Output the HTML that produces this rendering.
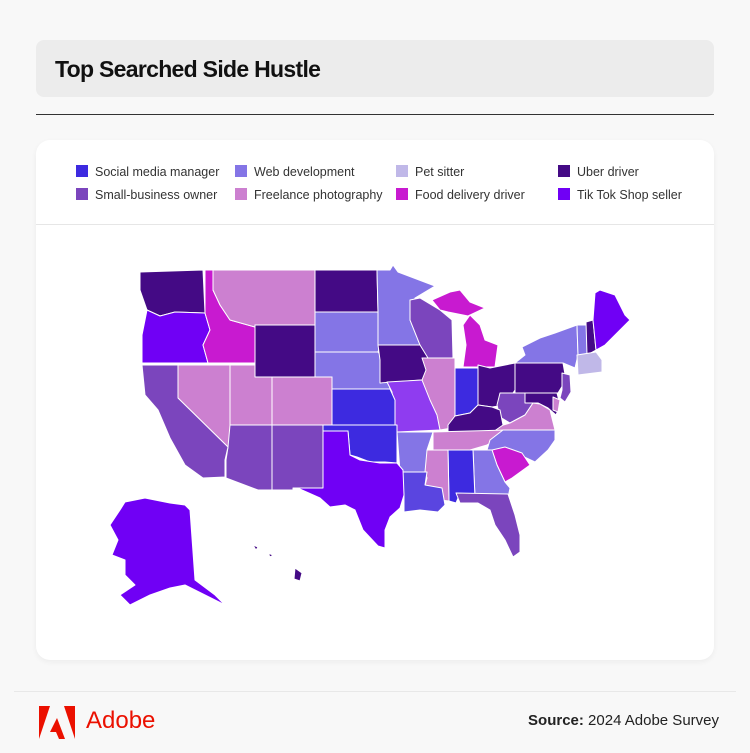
<!DOCTYPE html>
<html><head><meta charset="utf-8"><style>
body{margin:0;width:750px;height:753px;background:#f8f8f8;font-family:"Liberation Sans",sans-serif;position:relative;overflow:hidden}
.hdr{position:absolute;left:36px;top:40px;width:678px;height:57px;background:#ececec;border-radius:8px}
.hdr span{position:absolute;left:19px;top:16px;font-size:23px;font-weight:bold;color:#111;letter-spacing:-0.7px}
.rule{position:absolute;left:36px;top:114px;width:678px;height:1px;background:#333}
.card{position:absolute;left:36px;top:140px;width:678px;height:520px;background:#fff;border-radius:14px;box-shadow:0 2px 6px rgba(0,0,0,.05)}
.sep{position:absolute;left:0;top:84px;width:678px;height:1px;background:#e6e6e6}
.lg{position:absolute;font-size:12.5px;color:#333}
.lg i{display:inline-block;width:12px;height:12px;vertical-align:-1px;margin-right:7px}
.foot{position:absolute;left:14px;top:691px;width:722px;height:1px;background:#e8e8e8}
</style></head><body>
<div class="hdr"><span>Top Searched Side Hustle</span></div>
<div class="rule"></div>
<div class="card"><div class="sep"></div>
<div class="lg" style="left:40px;top:25px"><i style="background:#3d2ae0"></i>Social media manager</div>
<div class="lg" style="left:199px;top:25px"><i style="background:#8475e6"></i>Web development</div>
<div class="lg" style="left:360px;top:25px"><i style="background:#c0b8e8"></i>Pet sitter</div>
<div class="lg" style="left:522px;top:25px"><i style="background:#440a85"></i>Uber driver</div>
<div class="lg" style="left:40px;top:48px"><i style="background:#7b45bd"></i>Small-business owner</div>
<div class="lg" style="left:199px;top:48px"><i style="background:#cc80d0"></i>Freelance photography</div>
<div class="lg" style="left:360px;top:48px"><i style="background:#c81ad0"></i>Food delivery driver</div>
<div class="lg" style="left:522px;top:48px"><i style="background:#7000f5"></i>Tik Tok Shop seller</div>
</div>
<svg style="position:absolute;left:0;top:0" width="750" height="753" stroke="#fff" stroke-width="1" stroke-linejoin="round">
<polygon fill="#440a85" points="140,272 203,270 205,313 175,312 160,316 147,310 140,290"/>
<polygon fill="#7000f5" points="147,310 160,316 175,312 205,313 210,330 203,345 208,363 142,363 142,335"/>
<polygon fill="#c81ad0" points="205,270 213,270 213,290 220,305 230,320 255,327 255,363 208,363 203,345 210,330 205,313"/>
<polygon fill="#cc80d0" points="213,270 315,270 315,325 255,325 255,327 230,320 220,305 213,290"/>
<polygon fill="#440a85" points="255,325 315,325 315,377 255,377"/>
<polygon fill="#440a85" points="315,270 377,270 378,312 315,312"/>
<polygon fill="#8475e6" points="315,312 378,312 380,345 378,352 315,352"/>
<polygon fill="#8475e6" points="315,352 378,352 385,360 387,372 390,389 332,389 332,377 315,377"/>
<polygon fill="#8475e6" points="377,270 390,270 393,265 398,272 435,286 415,298 410,320 420,345 378,345 378,312"/>
<polygon fill="#7b45bd" points="410,300 420,298 440,310 452,320 453,358 422,358 420,345 410,320"/>
<polygon fill="#440a85" points="378,345 420,345 428,358 433,368 422,380 380,383 380,360"/>
<polygon fill="#c81ad0" points="432,300 450,292 460,290 470,302 485,308 468,316 448,312 440,310"/>
<polygon fill="#c81ad0" points="463,325 470,315 480,325 485,340 498,345 495,367 463,367 466,345"/>
<polygon fill="#cc80d0" points="422,358 455,358 455,415 452,428 440,430 435,415 428,400 420,385 426,370"/>
<polygon fill="#3d2ae0" points="455,368 478,368 478,405 470,413 455,416"/>
<polygon fill="#440a85" points="478,365 490,368 515,363 515,390 505,405 492,407 478,405"/>
<polygon fill="#440a85" points="515,363 563,363 566,380 558,393 515,393"/>
<polygon fill="#8475e6" points="522,347 540,338 555,333 577,325 578,355 575,368 563,363 515,363 525,355"/>
<polygon fill="#8475e6" points="577,325 587,325 587,355 578,355"/>
<polygon fill="#440a85" points="586,322 593,320 596,350 587,355"/>
<polygon fill="#7000f5" points="595,293 600,290 615,295 625,315 630,320 615,335 605,345 596,350 593,320"/>
<polygon fill="#c0b8e8" points="577,355 596,352 602,360 602,372 578,375"/>
<polygon fill="#7b45bd" points="562,373 570,375 571,392 565,402 560,398 562,390"/>
<polygon fill="#440a85" points="525,393 557,393 560,405 556,415 548,408 538,403 525,403"/>
<polygon fill="#cc80d0" points="553,397 560,400 558,412 553,410"/>
<polygon fill="#7b45bd" points="500,393 525,393 525,403 533,403 525,415 510,423 500,417 497,405"/>
<polygon fill="#cc80d0" points="493,428 510,423 525,415 533,403 540,404 550,410 555,430 500,432"/>
<polygon fill="#440a85" points="448,425 455,416 470,413 478,405 492,407 500,410 503,425 493,432 448,432"/>
<polygon fill="#cc80d0" points="433,432 507,430 500,438 487,445 470,450 433,450"/>
<polygon fill="#8475e6" points="503,430 555,430 555,440 548,450 535,462 520,455 505,450 487,450 490,440"/>
<polygon fill="#c81ad0" points="492,450 505,447 522,453 530,465 512,478 505,482 497,465"/>
<polygon fill="#8475e6" points="473,450 492,450 497,465 505,482 510,488 508,498 475,498"/>
<polygon fill="#3d2ae0" points="448,450 473,450 475,498 458,498 456,503 449,501"/>
<polygon fill="#cc80d0" points="425,450 448,450 449,501 440,500 430,500 422,497 427,478 423,465"/>
<polygon fill="#7b45bd" points="456,493 508,494 510,500 515,515 520,535 520,552 513,557 505,540 495,525 490,510 478,503 460,503"/>
<polygon fill="#5a45e0" points="400,472 427,472 425,485 442,488 445,505 438,512 420,510 404,512 404,495"/>
<polygon fill="#8475e6" points="397,432 433,432 427,450 425,472 400,472"/>
<polygon fill="#8f3cf0" points="387,382 422,380 430,400 437,415 440,430 397,432 395,425 392,392"/>
<polygon fill="#3d2ae0" points="332,389 390,389 395,400 395,425 332,425"/>
<polygon fill="#3d2ae0" points="323,425 397,425 397,463 385,462 370,462 357,457 350,455 348,431 323,431"/>
<polygon fill="#7000f5" points="323,431 348,431 350,455 360,460 380,463 397,463 403,470 404,495 400,508 390,517 385,530 385,548 378,546 363,530 355,510 345,505 330,507 320,498 293,486 293,427 323,427"/>
<polygon fill="#7b45bd" points="272,425 323,425 323,488 293,488 293,490 272,490"/>
<polygon fill="#7b45bd" points="223,425 272,425 272,490 258,490 226,478 226,460 228,447 225,440"/>
<polygon fill="#cc80d0" points="272,377 332,377 332,425 272,425"/>
<polygon fill="#cc80d0" points="230,365 255,365 255,377 272,377 272,425 230,425"/>
<polygon fill="#cc80d0" points="178,365 230,365 230,425 228,447 178,398"/>
<polygon fill="#7b45bd" points="142,365 178,365 178,398 228,447 225,460 225,477 203,478 185,465 170,438 158,410 145,395"/>
<polygon fill="#7000f5" points="125,502 145,498 170,503 185,505 190,510 195,580 215,595 225,605 205,595 185,585 170,588 150,595 130,605 120,595 135,585 125,575 125,560 112,555 118,540 110,525 120,510"/>
<polygon fill="#440a85" points="253,545 258,547 256,550"/>
<polygon fill="#440a85" points="268,553 273,555 270,557"/>
<polygon fill="#440a85" points="295,568 302,573 300,581 294,579"/>
</svg>
<div class="foot"></div>
<svg style="position:absolute;left:39px;top:706px" width="38" height="34"><polygon points="0,0 11,0 0,33" fill="#eb1000"/><polygon points="25,0 36,0 36,33" fill="#eb1000"/><polygon points="18,12 26,33 20,33 17,26 11,26" fill="#eb1000"/></svg>
<div style="position:absolute;left:86px;top:707px;font-size:24px;color:#eb1000;font-weight:500">Adobe</div>
<div style="position:absolute;right:31px;top:712px;font-size:15px;color:#222"><b>Source:</b> 2024 Adobe Survey</div>
</body></html>
